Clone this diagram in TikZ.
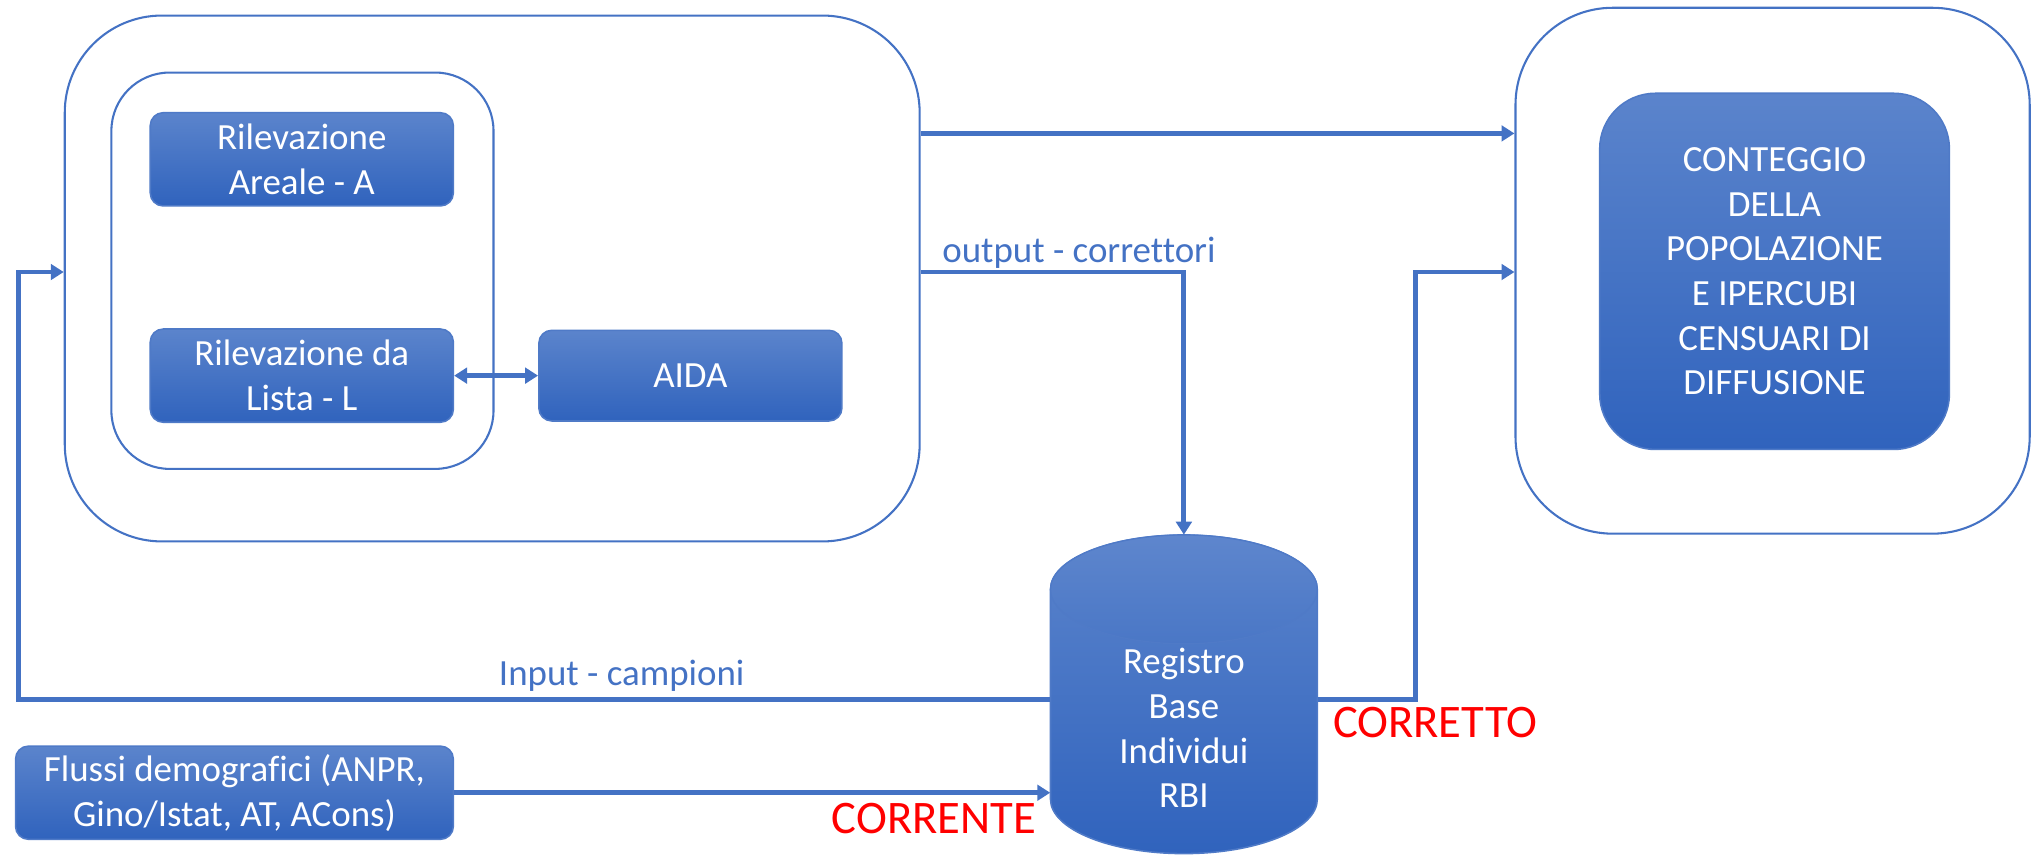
\documentclass[tikz,border=0pt]{standalone}
\usepackage{fontspec}
\setmainfont{Carlito}[Ligatures={NoCommon}]
\usetikzlibrary{arrows.meta,calc}
\definecolor{linec}{HTML}{4472C4}
\definecolor{boxtop}{HTML}{5B84CC}
\definecolor{boxbot}{HTML}{3063BD}
\definecolor{boxedge}{HTML}{4F7AC7}
\definecolor{captop}{HTML}{5E86CD}
\definecolor{capbot}{HTML}{4A77C6}
\definecolor{redtxt}{HTML}{FF0000}
\begin{document}
\begin{tikzpicture}[x=1pt,y=-1pt,
  bigframe/.style={draw=linec,line width=1.6pt,fill=white,inner sep=0pt},
  bluebox/.style={draw=boxedge,line width=1.2pt,top color=boxtop,bottom color=boxbot,text=white,align=center,inner sep=0pt,rounded corners=10pt,font=\fontsize{28.5}{34.5}\selectfont},
  conn/.style={draw=linec,line width=3.8pt,-{Triangle[length=10pt,width=12pt]}},
  dconn/.style={draw=linec,line width=3.8pt,{Triangle[length=10pt,width=12pt]}-{Triangle[length=10pt,width=12pt]}},
  lbl/.style={text=linec,font=\fontsize{28.5}{34.5}\selectfont,inner sep=0pt},
  redlbl/.style={text=redtxt,font=\fontsize{36}{43}\selectfont,inner sep=0pt}]
\useasboundingbox (0,0) rectangle (1568,661.6);

% frames
\node[bigframe,rounded corners=75pt,minimum width=660pt,minimum height=406pt] (leftf) at (380,215) {};
\node[bigframe,rounded corners=45pt,minimum width=295pt,minimum height=306pt] (innerf) at (233.5,209) {};
\node[bigframe,rounded corners=75pt,minimum width=397pt,minimum height=406pt] (rightf) at (1368.5,209) {};

% blue boxes
\node[bluebox,minimum width=234pt,minimum height=72pt] (A) at (233,123) {Rilevazione\\Areale - A};
\node[bluebox,minimum width=234pt,minimum height=72pt] (L) at (233,290) {Rilevazione da\\Lista - L};
\node[bluebox,minimum width=234pt,minimum height=70pt] (aida) at (533,290) {AIDA};
\node[bluebox,rounded corners=43pt,minimum width=270pt,minimum height=275pt] (cont) at (1370,209.5) {CONTEGGIO\\DELLA\\POPOLAZIONE\\E IPERCUBI\\CENSUARI DI\\DIFFUSIONE};
\node[bluebox,minimum width=338pt,minimum height=72pt] (flussi) at (181,612) {Flussi demografici (ANPR,\\Gino/Istat, AT, ACons)};

% cylinder
\node[minimum width=206pt,minimum height=246pt,inner sep=0pt] (rbi) at (914,536) {};
\draw[draw=boxedge,line width=1.2pt,top color=boxtop,bottom color=boxbot]
  (811,455) -- (811,617) arc[start angle=180,end angle=0,x radius=103,y radius=42]
  -- (1017,455) arc[start angle=0,end angle=-180,x radius=103,y radius=42] -- cycle;
\draw[draw=boxedge,line width=1pt,top color=captop,bottom color=capbot] (914,455) ellipse [x radius=103,y radius=42];
\node[text=white,align=center,font=\fontsize{28.5}{34.5}\selectfont,inner sep=0pt] (rbitext) at (914,562) {Registro\\Base\\Individui\\RBI};

% helper coordinates
\coordinate (r103) at (0,103);
\coordinate (r210) at (0,210);
\coordinate (lp) at (14,540);
\coordinate (rp) at (1093,540);

% connectors
\draw[conn] (leftf.east |- r103) -- (rightf.west |- r103);
\draw[conn] (leftf.east |- r210) -| (rbi.north);
\draw[conn] (rbi.west |- lp) -- (lp) |- (leftf.west |- r210);
\draw[conn] (flussi.east) -- (flussi.east -| rbi.west);
\draw[conn] (rbi.east |- lp) -- (rp) |- (rightf.west |- r210);
\draw[dconn] (L.east) -- (aida.west);

% labels
\node[lbl] (outlbl) at (833,195) {output - correttori};
\node[lbl] (inlbl) at (480,522) {Input - campioni};
\node[redlbl] (corrente) at (721,632) {CORRENTE};
\node[redlbl] (corretto) at (1108,558) {CORRETTO};
\end{tikzpicture}
\end{document}
